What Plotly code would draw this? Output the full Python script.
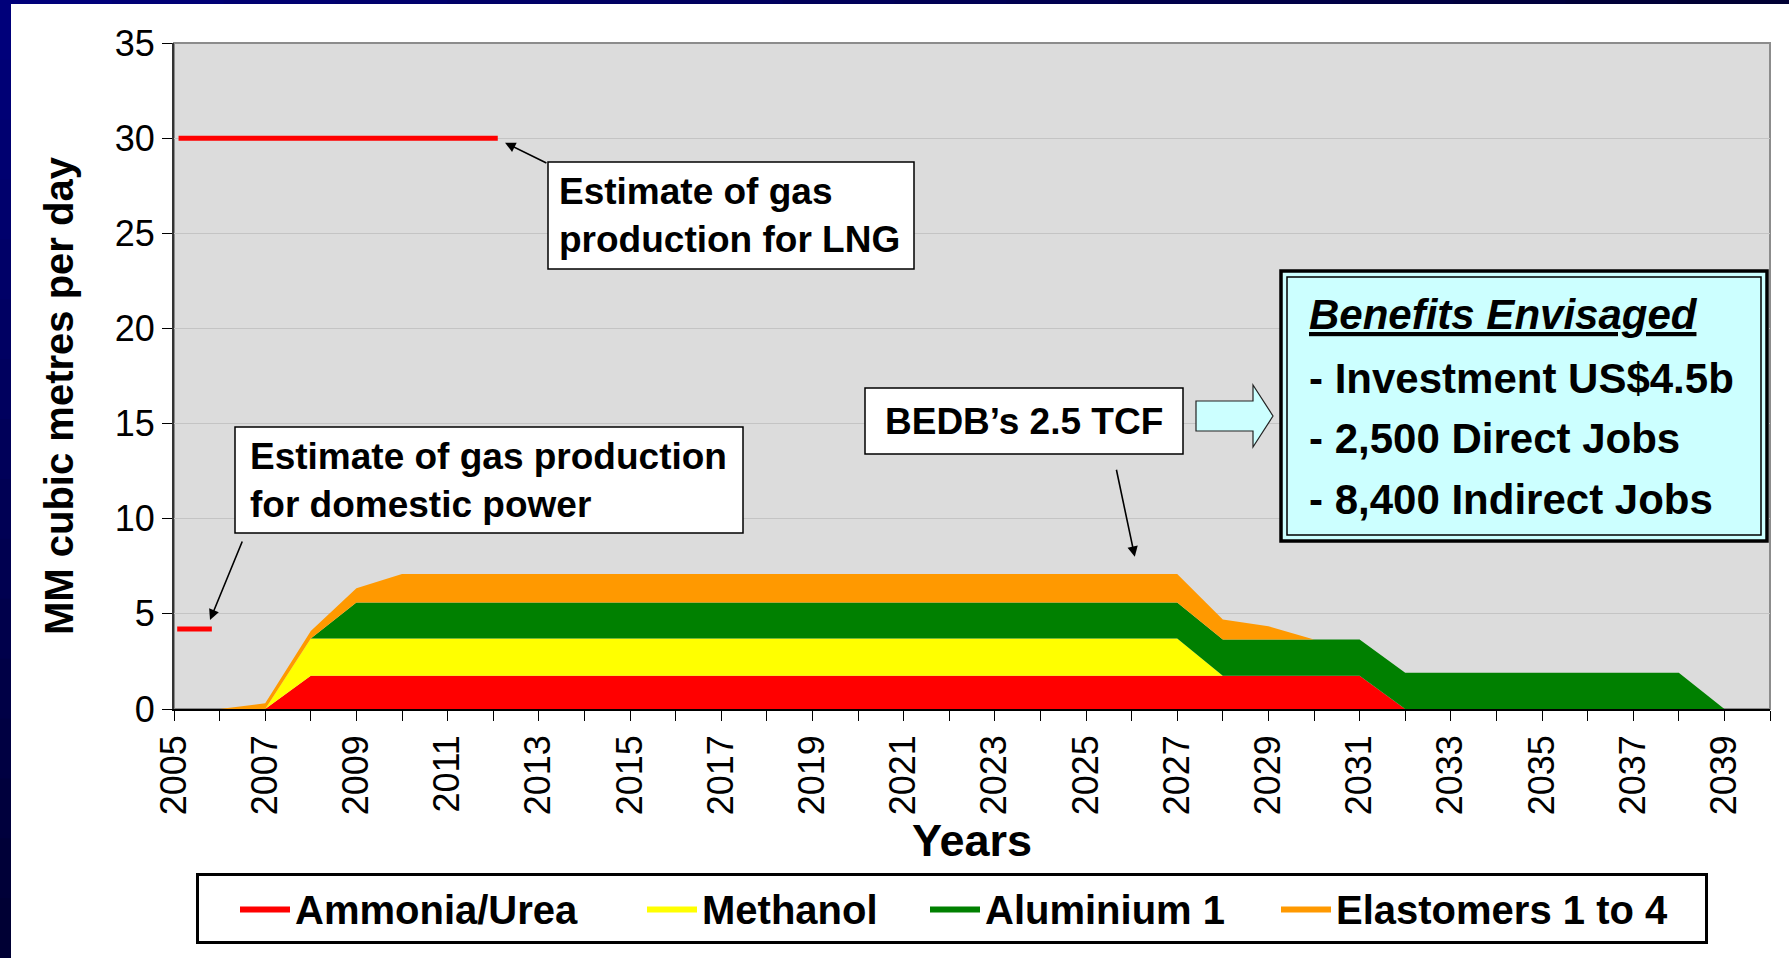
import plotly.graph_objects as go

# ---------------- data ----------------
years = [2005, 2006, 2007, 2008, 2009, 2010, 2011, 2012, 2013, 2014, 2015, 2016,
         2017, 2018, 2019, 2020, 2021, 2022, 2023, 2024, 2025, 2026, 2027, 2028,
         2029, 2030, 2031, 2032, 2033, 2034, 2035, 2036, 2037, 2038, 2039]
ammonia_urea = [0, 0, 0, 1.75, 1.75, 1.75, 1.75, 1.75, 1.75, 1.75, 1.75, 1.75,
                1.75, 1.75, 1.75, 1.75, 1.75, 1.75, 1.75, 1.75, 1.75, 1.75, 1.75, 1.75,
                1.75, 1.75, 1.75, 0, 0, 0, 0, 0, 0, 0, 0]
methanol = [0, 0, 0, 1.95, 1.95, 1.95, 1.95, 1.95, 1.95, 1.95, 1.95, 1.95,
            1.95, 1.95, 1.95, 1.95, 1.95, 1.95, 1.95, 1.95, 1.95, 1.95, 1.95, 0,
            0, 0, 0, 0, 0, 0, 0, 0, 0, 0, 0]
aluminium_1 = [0, 0, 0, 0, 1.9, 1.9, 1.9, 1.9, 1.9, 1.9, 1.9, 1.9,
               1.9, 1.9, 1.9, 1.9, 1.9, 1.9, 1.9, 1.9, 1.9, 1.9, 1.9, 1.9,
               1.9, 1.9, 1.9, 1.9, 1.9, 1.9, 1.9, 1.9, 1.9, 1.9, 0]
elastomers = [0, 0, 0.3, 0.4, 0.75, 1.5, 1.5, 1.5, 1.5, 1.5, 1.5, 1.5,
              1.5, 1.5, 1.5, 1.5, 1.5, 1.5, 1.5, 1.5, 1.5, 1.5, 1.5, 1.05,
              0.7, 0, 0, 0, 0, 0, 0, 0, 0, 0, 0]

series_names = ["Ammonia/Urea", "Methanol", "Aluminium 1", "Elastomers 1 to 4"]
series_colors = ["#ff0000", "#ffff00", "#008000", "#ff9900"]

lng_years = [2005.1, 2012.1]
lng_level = [30, 30]
domestic_years = [2005.07, 2005.83]
domestic_level = [4.2, 4.2]

y_title = "MM cubic metres per day"
x_title = "Years"
benefit_lines = ["<b><i><u>Benefits Envisaged</u></i></b>",
                 "<b>- Investment US$4.5b</b>",
                 "<b>- 2,500 Direct Jobs</b>",
                 "<b>- 8,400 Indirect Jobs</b>"]

# ---------------- geometry helpers ----------------
FONT = "Arial, 'Liberation Sans', sans-serif"
W, H = 1789, 958
ML, MR, MT, MB = 174, 19, 43, 249
PW = W - ML - MR
PH = H - MT - MB


def px(xpix):
    return (xpix - ML) / PW


def py(ypix):
    return (H - MB - ypix) / PH


fig = go.Figure()

legend_widths = [306, 182, 250, 364]
for name, vals, col, lw in zip(series_names,
                               [ammonia_urea, methanol, aluminium_1, elastomers],
                               series_colors, legend_widths):
    fig.add_trace(go.Scatter(
        x=years, y=vals, name=name, mode="lines", stackgroup="one",
        line=dict(width=0, color=col), fillcolor=col, legendwidth=lw,
        hoverinfo="x+y+name"))

fig.add_trace(go.Scatter(x=lng_years, y=lng_level, mode="lines",
                         line=dict(color="#ff0000", width=5), showlegend=False))
fig.add_trace(go.Scatter(x=domestic_years, y=domestic_level, mode="lines",
                         line=dict(color="#ff0000", width=5), showlegend=False))

shapes = []
# navy slide border (gradient imitated with bands)
n = 16
for i in range(n):
    t = i / (n - 1)
    c = "rgb(0,0,%d)" % int(122 - 70 * t)
    shapes.append(dict(type="rect", xref="paper", yref="paper",
                       x0=px(0), x1=px(11), y0=py(i * H / n), y1=py((i + 1) * H / n + 1),
                       fillcolor=c, line=dict(width=0), layer="above"))
    shapes.append(dict(type="rect", xref="paper", yref="paper",
                       x0=px(i * W / n), x1=px((i + 1) * W / n + 1), y0=py(0), y1=py(4),
                       fillcolor=c, line=dict(width=0), layer="above"))

# plot frame (grey top/right)
shapes.append(dict(type="rect", xref="paper", yref="paper", x0=0, x1=1, y0=0, y1=1,
                   line=dict(color="#8c8c8c", width=2), layer="below"))

# callout boxes
for (x0, y0, x1, y1) in [(235, 427, 743, 533), (548, 162, 914, 269), (865, 388, 1183, 454)]:
    shapes.append(dict(type="rect", xref="paper", yref="paper",
                       x0=px(x0), x1=px(x1), y0=py(y0), y1=py(y1),
                       fillcolor="white", line=dict(color="black", width=1.5), layer="above"))

# block arrow pointing to benefits box
pts = [(1196, 401), (1253, 401), (1253, 385), (1273, 416), (1253, 447), (1253, 431), (1196, 431)]
path = "M " + " L ".join("%f,%f" % (px(a), py(b)) for a, b in pts) + " Z"
shapes.append(dict(type="path", xref="paper", yref="paper", path=path,
                   fillcolor="#ccffff", line=dict(color="#222222", width=1.2), layer="above"))

# benefits box double border
shapes.append(dict(type="rect", xref="paper", yref="paper",
                   x0=px(1281), x1=px(1767), y0=py(271), y1=py(541),
                   fillcolor="#ccffff", line=dict(color="black", width=3.5), layer="above"))
shapes.append(dict(type="rect", xref="paper", yref="paper",
                   x0=px(1287), x1=px(1761), y0=py(277), y1=py(535),
                   fillcolor="rgba(0,0,0,0)", line=dict(color="black", width=1.5), layer="above"))

annotations = []
box_font = dict(family=FONT, size=37, color="black")

annotations.append(dict(
    xref="paper", yref="paper", x=px(248), y=py(480), xanchor="left", yanchor="middle",
    text="<b>Estimate of gas production<br>for domestic power</b>", align="left",
    showarrow=False, font=box_font))
annotations.append(dict(
    xref="paper", yref="paper", x=px(557), y=py(216), xanchor="left", yanchor="middle",
    text="<b>Estimate of gas<br>production for LNG</b>", align="left",
    showarrow=False, font=box_font))
annotations.append(dict(
    xref="paper", yref="paper", x=px(1024), y=py(421), xanchor="center", yanchor="middle",
    text="<b>BEDB’s 2.5 TCF</b>", align="center",
    showarrow=False, font=box_font))

# pointer arrows (data coordinates)
arrows = [
    ((2005.79, 4.68), (2006.51, 8.88)),
    ((2012.26, 29.76), (2013.2, 28.65)),
    ((2026.07, 8.0), (2025.66, 12.65)),
]
for (tx, ty), (sx, sy) in arrows:
    annotations.append(dict(x=tx, y=ty, ax=sx, ay=sy, xref="x", yref="y",
                            axref="x", ayref="y", text="", showarrow=True,
                            arrowhead=2, arrowsize=1.3, arrowwidth=1.6,
                            arrowcolor="black", standoff=0, startstandoff=0))

benefit_y = [314, 378, 439, 499]
for txt, yy in zip(benefit_lines, benefit_y):
    annotations.append(dict(xref="paper", yref="paper", x=px(1307), y=py(yy),
                            xanchor="left", yanchor="middle", text=txt,
                            showarrow=False, font=dict(family=FONT, size=42, color="black")))

# y-axis title (placed slightly below centre as in the original)
annotations.append(dict(xref="paper", yref="paper", x=px(59), y=py(396),
                        xanchor="center", yanchor="middle", textangle=-90,
                        text="<b>%s</b>" % y_title, showarrow=False,
                        font=dict(family=FONT, size=40, color="black")))

fig.update_layout(
    width=W, height=H, autosize=False,
    margin=dict(l=ML, r=MR, t=MT, b=MB, pad=0, autoexpand=False),
    paper_bgcolor="white", plot_bgcolor="#dcdcdc",
    font=dict(family=FONT, color="black"),
    showlegend=True,
    legend=dict(orientation="h", x=px(196), y=py(873), xanchor="left", yanchor="top",
                bgcolor="white", bordercolor="black", borderwidth=3,
                traceorder="normal", itemwidth=50, indentation=36,
                font=dict(family=FONT, size=40, color="black", weight="bold")),
    xaxis=dict(range=[2005, 2040], tick0=2005, dtick=2, ticks="outside", ticklen=10,
               tickwidth=1, tickcolor="black", tickangle=-90,
               tickfont=dict(family=FONT, size=36, color="black"),
               showline=True, linecolor="black", linewidth=1.5, showgrid=False,
               zeroline=False, automargin=False,
               minor=dict(dtick=1, tick0=2005, ticks="outside", ticklen=10,
                          tickcolor="black", tickwidth=1, showgrid=False),
               title=dict(text="<b>%s</b>" % x_title,
                          font=dict(family=FONT, size=45, color="black"), standoff=2)),
    yaxis=dict(range=[0, 35], dtick=5, ticks="outside", ticklen=10, tickwidth=1,
               tickcolor="black", tickfont=dict(family=FONT, size=36, color="black"),
               showline=True, linecolor="#333333", linewidth=2,
               gridcolor="#c4c4c4", gridwidth=1, zeroline=False, automargin=False),
    shapes=shapes,
    annotations=annotations,
)

fig.write_html("out.html", config={"displayModeBar": False},
               post_script="document.body.style.margin='0';")
